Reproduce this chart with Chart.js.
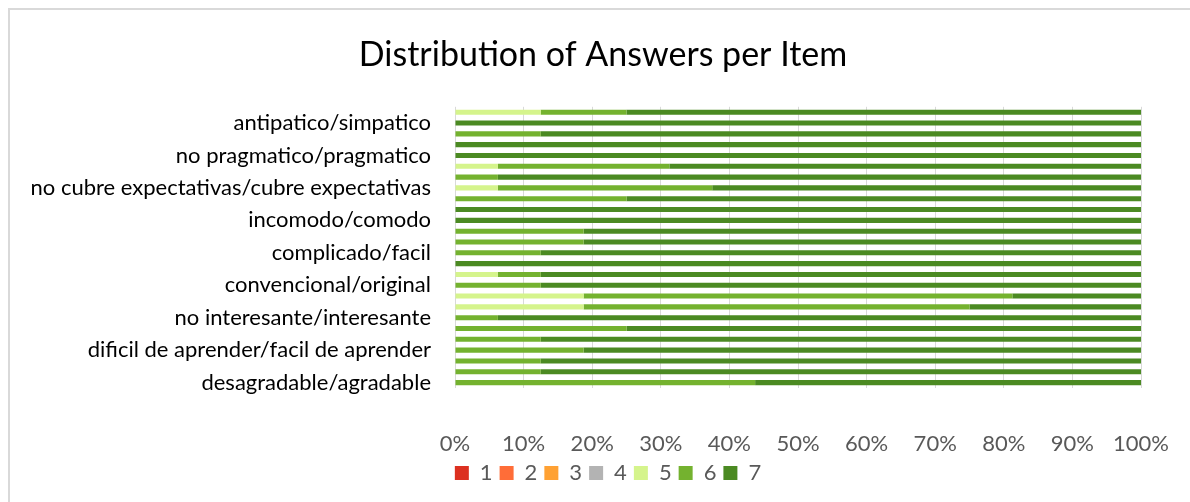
<!DOCTYPE html>
<html>
<head>
<meta charset="utf-8">
<script src="https://cdn.jsdelivr.net/npm/chart.js@4/dist/chart.umd.min.js"></script>
<style>
  html, body { margin: 0; padding: 0; background: #fff; overflow: hidden; }
  #wrap { position: absolute; left: 0; top: 0; width: 1190px; height: 502px; }
</style>
</head>
<body>
<div id="wrap"><canvas id="chart" width="1190" height="502"></canvas></div>
<script>
// Items of the questionnaire, item 1 is drawn at the bottom (like Excel)
var items = [
  'desagradable/agradable', 'incomprensible/comprensible', 'sin imaginacion/creativo',
  'dificil de aprender/facil de aprender', 'de poco valor/valioso', 'aburrido/emocionante',
  'no interesante/interesante', 'impredecible/predecible', 'lento/rapido',
  'convencional/original', 'obstructivo/impulsor de apoyo', 'malo/bueno',
  'complicado/facil', 'repelente/atractivo', 'usual/de vanguardia',
  'incomodo/comodo', 'inseguro/seguro', 'desmotivador/motivador',
  'no cubre expectativas/cubre expectativas', 'ineficiente/eficiente', 'confuso/claro',
  'no pragmatico/pragmatico', 'sobrecargado/ordenado', 'feo/atractivo',
  'antipatico/simpatico', 'conservador/innovador'
];

// share of answers (%) per item for each answer value 1..7
var answer1 = [0,0,0,0,0,0,0,0,0,0,0,0,0,0,0,0,0,0,0,0,0,0,0,0,0,0];
var answer2 = [0,0,0,0,0,0,0,0,0,0,0,0,0,0,0,0,0,0,0,0,0,0,0,0,0,0];
var answer3 = [0,0,0,0,0,0,0,0,0,0,0,0,0,0,0,0,0,0,0,0,0,0,0,0,0,0];
var answer4 = [0,0,0,0,0,0,0,0,0,0,0,0,0,0,0,0,0,0,0,0,0,0,0,0,0,0];
var answer5 = [0,0,0,0,0,0,0,18.75,18.75,0,6.25,0,0,0,0,0,0,0,6.25,0,6.25,0,0,0,0,12.5];
var answer6 = [43.75,12.5,12.5,18.75,12.5,25,6.25,56.25,62.5,12.5,6.25,0,12.5,18.75,18.75,0,0,25,31.25,6.25,25,0,0,12.5,0,12.5];
var answer7 = [56.25,87.5,87.5,81.25,87.5,75,93.75,25,18.75,87.5,87.5,100,87.5,81.25,81.25,100,100,75,62.5,93.75,68.75,100,100,87.5,100,75];

var answerLabels = ['1', '2', '3', '4', '5', '6', '7'];
var answerColors = ['#dc3020', '#ff6d38', '#ffa133', '#b3b3b3', '#d5f48c', '#74b22f', '#4b8a22'];
var answerData   = [answer1, answer2, answer3, answer4, answer5, answer6, answer7];

var FONT = 'Lato, "Open Sans", sans-serif';

// light frame around the chart (only left and top edges are visible in the picture)
// and shift title / legend a bit to the right, like Excel centres them
var framePlugin = {
  id: 'frame',
  afterLayout: function(chart) {
    if (chart.titleBlock) chart.titleBlock.left = 65;
    if (chart.legend) chart.legend.left = 75;
  },
  beforeDraw: function(chart) {
    var ctx = chart.ctx;
    ctx.save();
    ctx.strokeStyle = '#d9d9d9';
    ctx.lineWidth = 2;
    ctx.beginPath();
    ctx.moveTo(9, chart.height);
    ctx.lineTo(9, 9);
    ctx.lineTo(chart.width, 9);
    ctx.stroke();
    ctx.restore();
  }
};

new Chart(document.getElementById('chart').getContext('2d'), {
  type: 'bar',
  data: {
    labels: items,
    datasets: answerLabels.map(function(lbl, i) {
      return {
        label: lbl,
        data: answerData[i],
        backgroundColor: answerColors[i],
        borderWidth: 0,
        barPercentage: 0.47,
        categoryPercentage: 1
      };
    })
  },
  plugins: [framePlugin],
  options: {
    indexAxis: 'y',
    responsive: false,
    animation: false,
    layout: { padding: { top: 16, right: 49, bottom: 8, left: 0 } },
    plugins: {
      title: {
        display: true,
        text: 'Distribution of Answers per Item',
        color: '#000',
        font: { family: FONT, size: 34, weight: 'normal' },
        padding: { top: 19, bottom: 31 }
      },
      legend: {
        position: 'bottom',
        labels: {
          color: '#595959',
          font: { family: FONT, size: 22 },
          boxWidth: 14,
          boxHeight: 14,
          padding: 7
        }
      },
      tooltip: { enabled: false }
    },
    scales: {
      x: {
        stacked: true,
        min: 0,
        max: 100,
        grid: { color: '#d9d9d9', drawTicks: false },
        border: { display: false },
        afterFit: function(scale) {
          scale.height = 67;
          scale.paddingLeft = 0;
          scale.paddingRight = 0;
        },
        ticks: {
          stepSize: 10,
          padding: 43,
          color: '#595959',
          font: { family: FONT, size: 22 },
          callback: function(v) { return v + '%'; }
        }
      },
      y: {
        stacked: true,
        reverse: true,
        grid: { display: false, drawTicks: false },
        border: { display: false },
        afterFit: function(scale) { scale.width = 455; },
        ticks: {
          autoSkip: false,
          padding: 24,
          color: '#000',
          font: { family: FONT, size: 22 },
          callback: function(v, i) { return i % 3 === 0 ? items[i] : ''; }
        }
      }
    }
  }
});
</script>
</body>
</html>
